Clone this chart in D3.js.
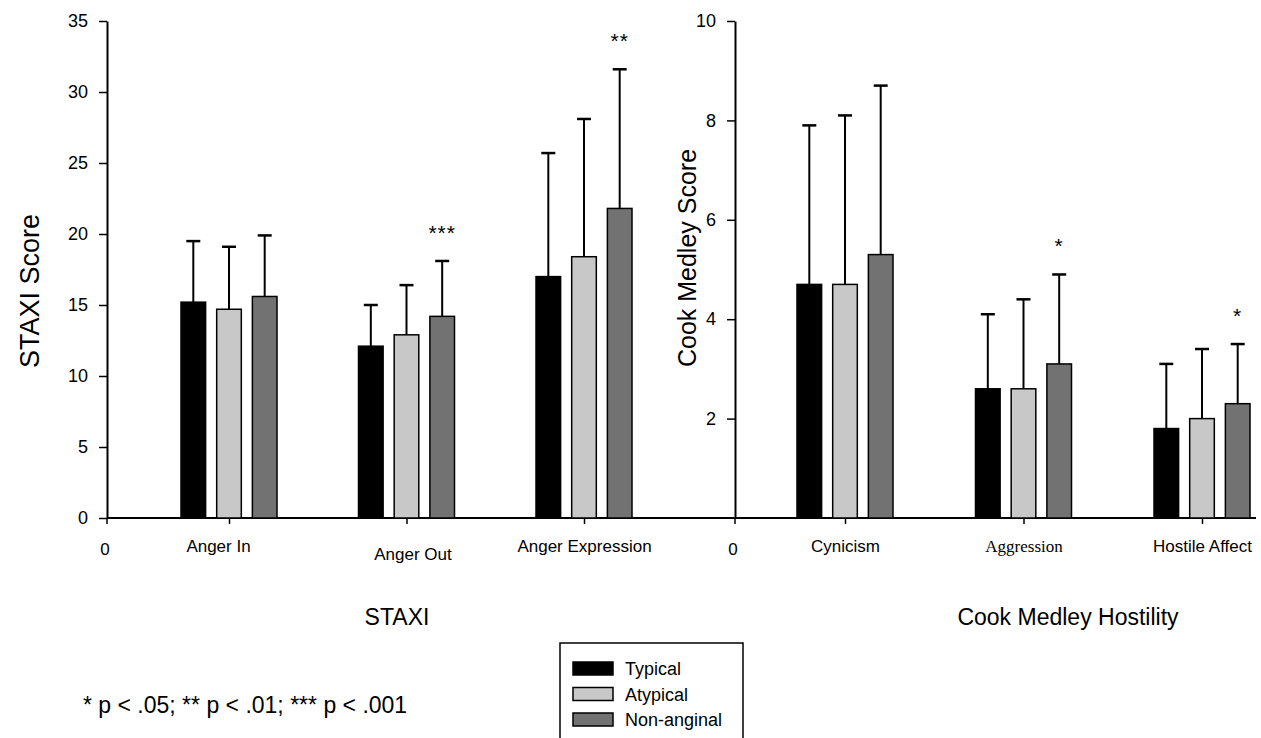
<!DOCTYPE html>
<html>
<head>
<meta charset="utf-8">
<script src="https://cdn.jsdelivr.net/npm/d3@7"></script>
<style>
  body { margin: 0; background: #fff; }
  text { font-family: "Liberation Sans", Arial, sans-serif; fill: #000; }
</style>
</head>
<body>
<script>
var width = 1261;
var height = 738;

// groups
var series = ["Typical", "Atypical", "Non-anginal"];
var colors = ["#000000", "#c8c8c8", "#727272"];

// STAXI panel
var staxiCats = ["Anger In", "Anger Out", "Anger Expression"];
var staxiMean = [[15.2, 14.7, 15.6], [12.1, 12.9, 14.2], [17.0, 18.4, 21.8]];
var staxiUpper = [[19.5, 19.1, 19.9], [15.0, 16.4, 18.1], [25.7, 28.1, 31.6]];
var staxiStars = ["", "***", "**"];
var staxiTicks = [0, 5, 10, 15, 20, 25, 30, 35];

// Cook Medley panel
var cookCats = ["Cynicism", "Aggression", "Hostile Affect"];
var cookMean = [[4.7, 4.7, 5.3], [2.6, 2.6, 3.1], [1.8, 2.0, 2.3]];
var cookUpper = [[7.9, 8.1, 8.7], [4.1, 4.4, 4.9], [3.1, 3.4, 3.5]];
var cookStars = ["", "*", "*"];
var cookTicks = [2, 4, 6, 8, 10];

var svg = d3.select("body")
            .append("svg")
            .attr("width", width)
            .attr("height", height);

var baseY = 518;
var topY = 21;

// offsets of the three bars inside a group
var inner = d3.scaleBand()
              .domain(series)
              .range([-48, 48])
              .paddingInner(0.31);

// shared baseline
svg.append("line")
   .attr("x1", 107).attr("x2", 1256)
   .attr("y1", baseY).attr("y2", baseY)
   .attr("stroke", "#000").attr("stroke-width", 2);

// label nudges copied from the original layout
var labelDx = { "Anger In": -11, "Anger Out": 6 };

function panel(opts) {
  var y = d3.scaleLinear().domain([0, opts.max]).range([baseY, topY]);
  var x = d3.scalePoint().domain(opts.cats).range(opts.xRange);

  var g = svg.append("g");

  // y axis
  var yAxis = d3.axisLeft(y)
                .tickValues(opts.ticks)
                .tickSize(8)
                .tickSizeOuter(0)
                .tickPadding(11);
  var ya = g.append("g")
            .attr("transform", "translate(" + opts.axisX + ",0)")
            .call(yAxis);
  ya.select(".domain").attr("stroke-width", 2);
  ya.selectAll(".tick line").attr("stroke-width", 1.5);
  ya.selectAll("text")
    .style("font-size", "18px")
    .style("font-family", "'Liberation Sans', Arial, sans-serif");

  // x ticks
  var xAxis = d3.axisBottom(x).tickSize(6).tickSizeOuter(0).tickPadding(16);
  var xa = g.append("g")
            .attr("transform", "translate(0," + baseY + ")")
            .call(xAxis);
  xa.select(".domain").remove();
  xa.selectAll(".tick line").attr("stroke-width", 1.5);
  xa.selectAll("text")
    .style("font-size", "17px")
    .style("font-family", function(d) {
      return d === "Aggression" ? "'Liberation Serif', 'Times New Roman', serif" : "'Liberation Sans', Arial, sans-serif";
    })
    .attr("dx", function(d) { return labelDx[d] || 0; })
    .attr("dy", function(d) { return d === "Anger Out" ? "1.2em" : "0.71em"; });

  // "0" at origin
  g.append("line")
   .attr("x1", opts.axisX).attr("x2", opts.axisX)
   .attr("y1", baseY).attr("y2", baseY + 6)
   .attr("stroke", "#000").attr("stroke-width", 1.5);
  g.append("text")
   .attr("x", opts.axisX - 2).attr("y", baseY + 37)
   .attr("text-anchor", "middle")
   .style("font-size", "17px")
   .text("0");

  // bars
  opts.cats.forEach(function(c, i) {
    var grp = g.append("g").attr("transform", "translate(" + x(c) + ",0)");
    grp.selectAll("line.err")
       .data(opts.upper[i])
       .enter().append("line")
       .attr("class", "err")
       .attr("x1", function(d, j) { return inner(series[j]) + inner.bandwidth() / 2; })
       .attr("x2", function(d, j) { return inner(series[j]) + inner.bandwidth() / 2; })
       .attr("y1", function(d, j) { return y(opts.mean[i][j]); })
       .attr("y2", function(d) { return y(d); })
       .attr("stroke", "#000").attr("stroke-width", 2);
    grp.selectAll("line.cap")
       .data(opts.upper[i])
       .enter().append("line")
       .attr("class", "cap")
       .attr("x1", function(d, j) { return inner(series[j]) + inner.bandwidth() / 2 - 7; })
       .attr("x2", function(d, j) { return inner(series[j]) + inner.bandwidth() / 2 + 7; })
       .attr("y1", function(d) { return y(d); })
       .attr("y2", function(d) { return y(d); })
       .attr("stroke", "#000").attr("stroke-width", 2.5);
    grp.selectAll("rect")
       .data(opts.mean[i])
       .enter().append("rect")
       .attr("x", function(d, j) { return inner(series[j]); })
       .attr("y", function(d) { return y(d); })
       .attr("width", inner.bandwidth())
       .attr("height", function(d) { return baseY - y(d); })
       .attr("fill", function(d, j) { return colors[j]; })
       .attr("stroke", "#000")
       .attr("stroke-width", 1.5);
    if (opts.stars[i]) {
      var last = series.length - 1;
      grp.append("text")
         .attr("x", inner(series[last]) + inner.bandwidth() / 2)
         .attr("y", y(opts.upper[i][last]) - 21)
         .attr("text-anchor", "middle")
         .style("font-size", "21px")
         .style("letter-spacing", "1px")
         .text(opts.stars[i]);
    }
  });

  // titles
  g.append("text")
   .attr("transform", "translate(" + opts.titleX + "," + opts.titleY + ") rotate(-90)")
   .attr("text-anchor", "middle")
   .style("font-size", opts.titleSize)
   .text(opts.yTitle);
  g.append("text")
   .attr("x", opts.xTitleX).attr("y", 625)
   .attr("text-anchor", "middle")
   .style("font-size", "23px")
   .text(opts.xTitle);
}

panel({
  cats: staxiCats, mean: staxiMean, upper: staxiUpper, stars: staxiStars,
  max: 35, ticks: staxiTicks, axisX: 107, xRange: [229, 584],
  yTitle: "STAXI Score", titleX: 39, titleY: 291, titleSize: "27px",
  xTitle: "STAXI", xTitleX: 397
});

panel({
  cats: cookCats, mean: cookMean, upper: cookUpper, stars: cookStars,
  max: 10, ticks: cookTicks, axisX: 735, xRange: [845, 1202],
  yTitle: "Cook Medley Score", titleX: 696, titleY: 258, titleSize: "25px",
  xTitle: "Cook Medley Hostility", xTitleX: 1068
});

// legend
var legend = svg.append("g").attr("transform", "translate(560,643)");
legend.append("rect")
      .attr("width", 183).attr("height", 110)
      .attr("fill", "#fff").attr("stroke", "#000").attr("stroke-width", 1.5);
var items = legend.selectAll("g.item")
                  .data(series)
                  .enter().append("g")
                  .attr("class", "item")
                  .attr("transform", function(d, i) { return "translate(13," + (19 + i * 25.5) + ")"; });
items.append("rect")
     .attr("width", 40).attr("height", 13)
     .attr("fill", function(d, i) { return colors[i]; })
     .attr("stroke", "#000").attr("stroke-width", 1.5);
items.append("text")
     .attr("x", 52).attr("y", 13)
     .style("font-size", "18px")
     .text(function(d) { return d; });

// footnote
svg.append("text")
   .attr("x", 83).attr("y", 713)
   .style("font-size", "23px")
   .text("* p < .05; ** p < .01; *** p < .001");
</script>
</body>
</html>
